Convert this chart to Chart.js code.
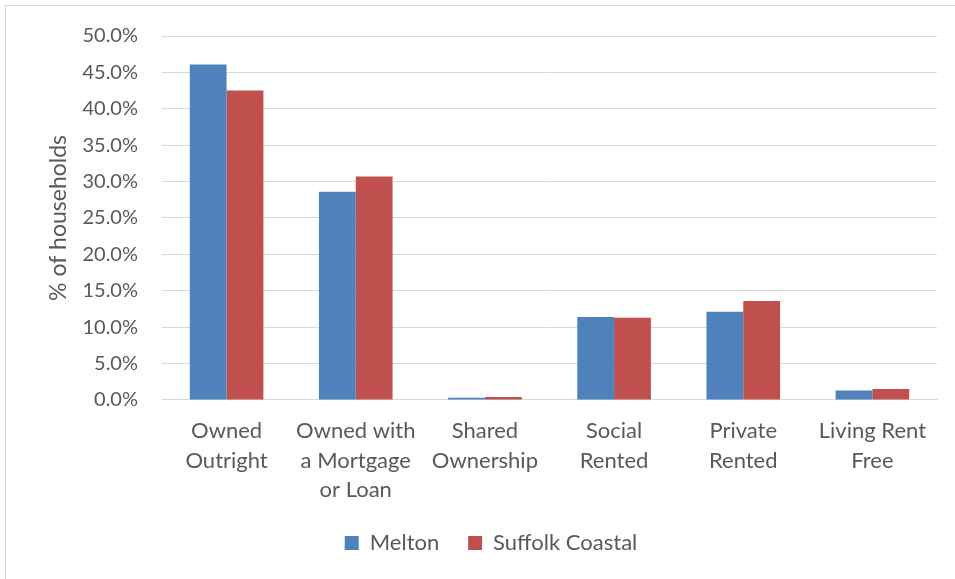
<!DOCTYPE html>
<html>
<head>
<meta charset="utf-8">
<script src="https://cdn.jsdelivr.net/npm/chart.js@4/dist/chart.umd.min.js"></script>
<style>
  html, body { margin: 0; padding: 0; background: #fff; overflow: hidden; }
  #wrap { position: relative; width: 955px; height: 579px; }
  #frame { position: absolute; left: 5px; top: 5px; width: 1000px; height: 700px; border: 1px solid #d9d9d9; box-sizing: border-box; }
  canvas { position: absolute; left: 0; top: 0; }
</style>
</head>
<body>
<div id="wrap">
  <div id="frame"></div>
  <canvas id="c" width="955" height="579"></canvas>
</div>
<script>
const categories = [
  ["Owned", "Outright"],
  ["Owned with", "a Mortgage", "or Loan"],
  ["Shared", "Ownership"],
  ["Social", "Rented"],
  ["Private", "Rented"],
  ["Living Rent", "Free"]
];
const seriesNames = ["Melton", "Suffolk Coastal"];
const melton = [46.1, 28.6, 0.3, 11.4, 12.1, 1.3];
const suffolkCoastal = [42.5, 30.7, 0.4, 11.3, 13.6, 1.5];
const yAxisTitle = "% of households";

const FONT = "Lato, 'Liberation Sans', sans-serif";
const TEXT = "#595959";

new Chart(document.getElementById("c"), {
  type: "bar",
  data: {
    labels: categories,
    datasets: [
      { label: seriesNames[0], data: melton, backgroundColor: "#4f81bd", borderWidth: 0 },
      { label: seriesNames[1], data: suffolkCoastal, backgroundColor: "#c0504d", borderWidth: 0 }
    ]
  },
  options: {
    responsive: false,
    animation: false,
    devicePixelRatio: 1,
    layout: { padding: { top: 35, right: 18, bottom: 15, left: 45 } },
    datasets: { bar: { categoryPercentage: 0.57, barPercentage: 1.0 } },
    scales: {
      x: {
        afterFit: (s) => { s.height -= 1; },
        grid: { display: false, drawTicks: false },
        border: { display: true, color: "#d9d9d9", width: 1 },
        ticks: { color: TEXT, font: { family: FONT, size: 22, lineHeight: 1.32 }, padding: 17, maxRotation: 0, autoSkip: false }
      },
      y: {
        min: 0, max: 50,
        afterFit: (s) => { s.width = 117; },
        grid: { color: "#d9d9d9", drawTicks: false },
        border: { display: false },
        ticks: { stepSize: 5, color: TEXT, padding: 24, font: { family: FONT, size: 20 },
                 callback: (v) => v.toFixed(1) + "%" },
        title: { display: true, text: yAxisTitle, color: TEXT, font: { family: FONT, size: 23 }, padding: { top: 0, bottom: 0 } }
      }
    },
    plugins: {
      legend: {
        position: "bottom",
        labels: {
          color: TEXT, font: { family: FONT, size: 22 }, boxWidth: 14, boxHeight: 14, padding: 12,
          generateLabels: (chart) => Chart.defaults.plugins.legend.labels.generateLabels(chart).map((l, i) => {
            if (i === 0) l.text = l.text + "   ";
            l.lineWidth = 0;
            return l;
          })
        }
      },
      tooltip: { enabled: false }
    }
  }
});
</script>
</body>
</html>
